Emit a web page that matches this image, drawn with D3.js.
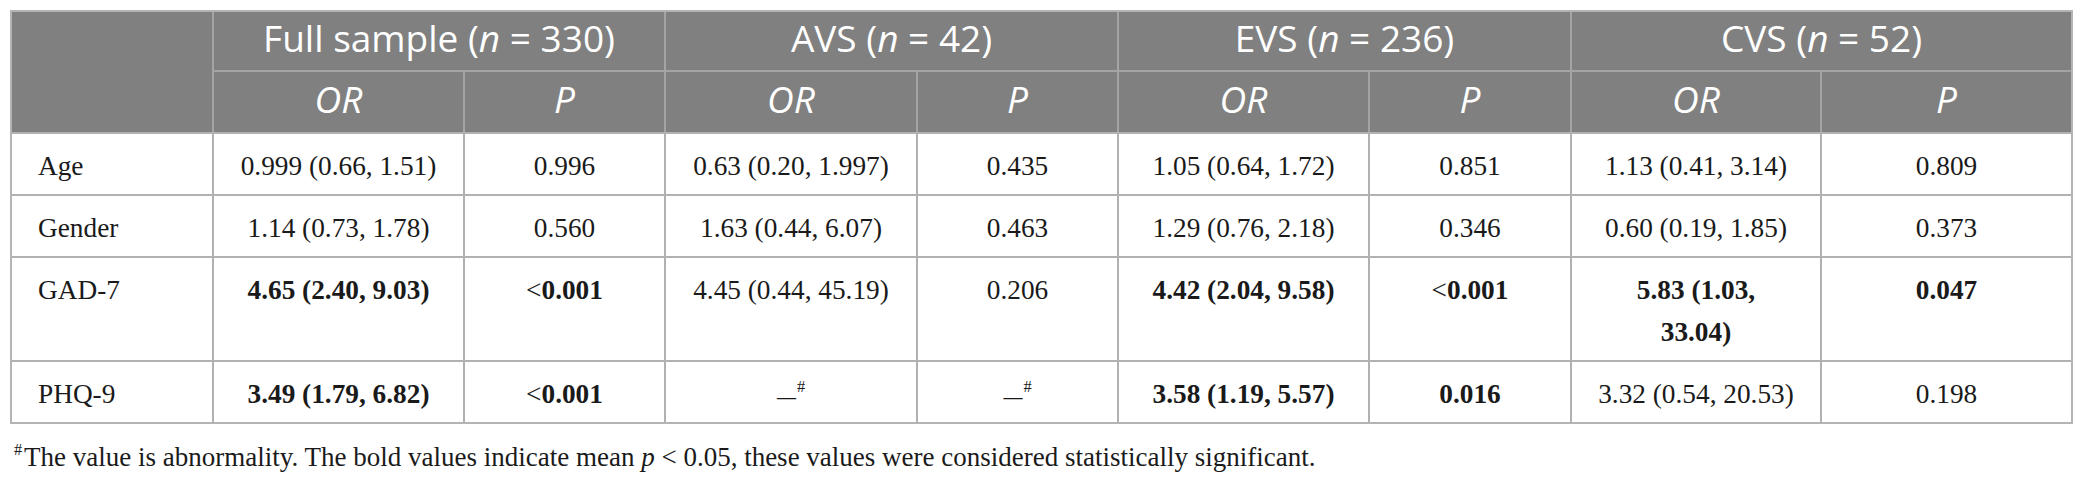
<!DOCTYPE html>
<html>
<head>
<meta charset="utf-8">
<script src="https://cdn.jsdelivr.net/npm/d3@7"></script>
<style>
  html, body { margin: 0; padding: 0; background: #ffffff; }
  svg { display: block; }
</style>
</head>
<body>
<svg id="chart" width="2086" height="485"></svg>
<script>
// ---------- data ----------
const groups = ["Full sample", "AVS", "EVS", "CVS"];
const groupN = [330, 42, 236, 52];
const subHeaders = ["OR", "P"];
const rowLabels = ["Age", "Gender", "GAD-7", "PHQ-9"];

const orFull = ["0.999 (0.66, 1.51)", "1.14 (0.73, 1.78)", "4.65 (2.40, 9.03)", "3.49 (1.79, 6.82)"];
const pFull  = ["0.996", "0.560", "<0.001", "<0.001"];
const orAVS  = ["0.63 (0.20, 1.997)", "1.63 (0.44, 6.07)", "4.45 (0.44, 45.19)", "—#"];
const pAVS   = ["0.435", "0.463", "0.206", "—#"];
const orEVS  = ["1.05 (0.64, 1.72)", "1.29 (0.76, 2.18)", "4.42 (2.04, 9.58)", "3.58 (1.19, 5.57)"];
const pEVS   = ["0.851", "0.346", "<0.001", "0.016"];
const orCVS  = ["1.13 (0.41, 3.14)", "0.60 (0.19, 1.85)", "5.83 (1.03,\n33.04)", "3.32 (0.54, 20.53)"];
const pCVS   = ["0.809", "0.373", "0.047", "0.198"];

const orByGroup = [orFull, orAVS, orEVS, orCVS];
const pByGroup  = [pFull, pAVS, pEVS, pCVS];

const footnoteParts = [
  {t: "#", sup: true},
  {t: "The value is abnormality. The bold values indicate mean "},
  {t: "p", it: true},
  {t: " < 0.05, these values were considered statistically significant."}
];

// ---------- layout ----------
const tL = 11, tT = 11;
const colWidths = [202, 251, 201, 252, 201, 251, 202, 250, 251];
const rowHeights = [60, 62, 62, 62, 104, 62];
const colKeys = d3.range(colWidths.length);
const rowKeys = d3.range(rowHeights.length);
const colEdges = [tL, ...Array.from(d3.cumsum(colWidths), v => tL + v)];
const rowEdges = [tT, ...Array.from(d3.cumsum(rowHeights), v => tT + v)];

const x = d3.scaleOrdinal().domain(colKeys).range(colEdges.slice(0, -1));
const w = d3.scaleOrdinal().domain(colKeys).range(colWidths);
const y = d3.scaleOrdinal().domain(rowKeys).range(rowEdges.slice(0, -1));
const h = d3.scaleOrdinal().domain(rowKeys).range(rowHeights);
const tR = colEdges[colEdges.length - 1];
const tB = rowEdges[rowEdges.length - 1];

const headFont = "'Open Sans', 'DejaVu Sans', sans-serif";
const bodyFont = "'Liberation Serif', 'DejaVu Serif', serif";
const headSize = 37;
const bodySize = 27.3;
const footSize = 27;
const baseOff = 42;
const lineH = 42;
const headBg = "#808080";
const headLine = "#a4a4a4";
const bodyLine = "#b1b1b1";
const textCol = "#1a1a1a";

const svg = d3.select("#chart");

// header background
svg.append("rect")
  .attr("x", tL).attr("y", tT)
  .attr("width", tR - tL).attr("height", rowEdges[2] - tT)
  .attr("fill", headBg);

// ---------- header texts ----------
const hdr = svg.append("g").attr("fill", "#ffffff")
  .attr("font-family", headFont).attr("font-size", headSize);

groups.forEach((g, i) => {
  const c0 = 1 + i * 2;
  const cx = x(c0) + (w(c0) + w(c0 + 1)) / 2;
  const t = hdr.append("text").attr("x", cx).attr("y", y(0) + 41)
    .attr("text-anchor", "middle");
  t.append("tspan").text(g + " (");
  t.append("tspan").attr("font-style", "italic").text("n");
  t.append("tspan").text(" = " + groupN[i] + ")");
  subHeaders.forEach((s, j) => {
    const c = c0 + j;
    hdr.append("text").attr("x", x(c) + w(c) / 2).attr("y", y(1) + baseOff)
      .attr("text-anchor", "middle").attr("font-style", "italic").text(s);
  });
});

// ---------- body ----------
const body = svg.append("g").attr("fill", textCol)
  .attr("font-family", bodyFont).attr("font-size", bodySize);

function isSig(p) {
  if (p.startsWith("<")) return true;
  const v = parseFloat(p);
  return !isNaN(v) && v < 0.05;
}

function writeCell(str, cx, ty, bold) {
  const lines = str.split("\n");
  lines.forEach((ln, k) => {
    const t = body.append("text").attr("x", cx).attr("y", ty + k * lineH)
      .attr("text-anchor", "middle");
    if (ln.endsWith("#")) {
      t.append("tspan").attr("font-size", 19).attr("font-weight", "bold").text(ln.slice(0, -1));
      t.append("tspan").attr("font-size", bodySize * 0.6).attr("dy", -11).attr("dx", 1).text("#");
    } else if (ln.startsWith("<")) {
      t.append("tspan").text("<");
      t.append("tspan").attr("font-weight", bold ? "bold" : null).text(ln.slice(1));
    } else {
      t.attr("font-weight", bold ? "bold" : null).text(ln);
    }
  });
}

rowLabels.forEach((lab, r) => {
  const ry = y(r + 2);
  body.append("text").attr("x", x(0) + 27).attr("y", ry + baseOff).text(lab);
  groups.forEach((g, gi) => {
    const pv = pByGroup[gi][r];
    const bold = isSig(pv);
    const cOR = 1 + gi * 2, cP = cOR + 1;
    writeCell(orByGroup[gi][r], x(cOR) + w(cOR) / 2, ry + baseOff, bold);
    writeCell(pv, x(cP) + w(cP) / 2, ry + baseOff, bold);
  });
});

// ---------- grid lines ----------
const gl = svg.append("g").attr("fill", "none");
groups.forEach((g, i) => {
  const c0 = 1 + i * 2;
  gl.append("line")
    .attr("x1", x(c0)).attr("x2", x(c0) + w(c0) + w(c0 + 1))
    .attr("y1", y(1)).attr("y2", y(1))
    .attr("stroke", headLine).attr("stroke-width", 2);
  gl.append("line")
    .attr("x1", x(c0 + 1)).attr("x2", x(c0 + 1))
    .attr("y1", y(1)).attr("y2", y(2))
    .attr("stroke", headLine).attr("stroke-width", 2);
  gl.append("line")
    .attr("x1", x(c0)).attr("x2", x(c0))
    .attr("y1", tT).attr("y2", y(2))
    .attr("stroke", headLine).attr("stroke-width", 2);
});
colKeys.slice(1).forEach(c => {
  gl.append("line")
    .attr("x1", x(c)).attr("x2", x(c))
    .attr("y1", y(2)).attr("y2", tB)
    .attr("stroke", bodyLine).attr("stroke-width", 2);
});
rowKeys.slice(2).forEach(r => {
  gl.append("line")
    .attr("x1", tL).attr("x2", tR)
    .attr("y1", y(r)).attr("y2", y(r))
    .attr("stroke", bodyLine).attr("stroke-width", 2);
});
gl.append("rect")
  .attr("x", tL).attr("y", tT)
  .attr("width", tR - tL).attr("height", tB - tT)
  .attr("stroke", "#b4b4b4").attr("stroke-width", 2);

// ---------- footnote ----------
const fn = svg.append("text").attr("x", 14).attr("y", 466)
  .attr("font-family", bodyFont).attr("font-size", footSize).attr("fill", textCol);
footnoteParts.forEach(p => {
  const ts = fn.append("tspan").text(p.t);
  if (p.sup) ts.attr("font-size", footSize * 0.6).attr("dy", -11);
  else if (p.t.startsWith("The")) ts.attr("dy", 11).attr("dx", 2);
  if (p.it) ts.attr("font-style", "italic");
});
</script>
</body>
</html>
